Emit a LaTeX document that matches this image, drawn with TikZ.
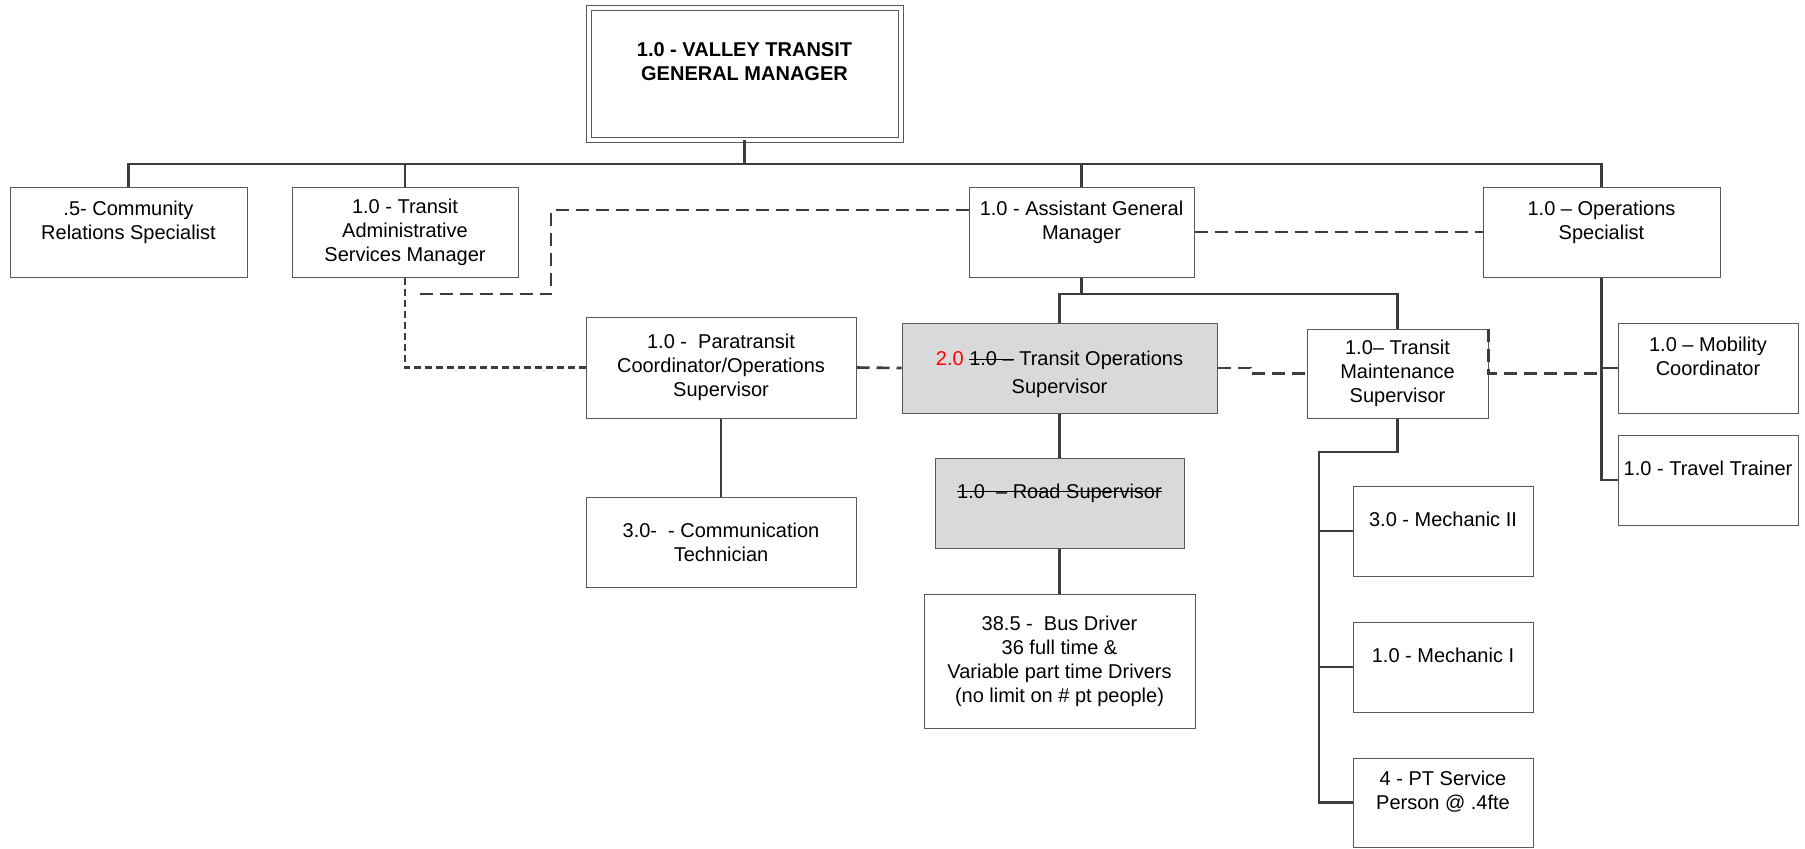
\documentclass[tikz,border=0pt]{standalone}
\usepackage{fontspec}
\setmainfont{Liberation Sans}
\usepackage{xcolor}
\usepackage{tikz}
\usetikzlibrary{calc}
\definecolor{edge}{HTML}{595959}
\definecolor{wire}{HTML}{3C3C3C}
\definecolor{shade}{HTML}{D9D9D9}
\definecolor{num}{HTML}{FF0000}
\newcommand\strk[1]{\setbox0\hbox{#1}\rlap{\rule[0.3em]{\wd0}{0.5pt}}\box0\relax}
\tikzset{
  box/.style={draw=edge, line width=0.5pt, fill=white, align=center, inner xsep=1pt, inner ysep=0pt, font=\fontsize{10}{12}\selectfont},
  sz/.style 2 args={minimum width=#1*0.5pt, minimum height=#2*0.5pt},
  grey/.style={box, fill=shade},
  link/.style={draw=wire, line width=1.1pt},
  dlink/.style={draw=wire, line width=1.3pt, dash pattern=on 6.5pt off 3.5pt},
  slink/.style={draw=wire, line width=1.2pt, dash pattern=on 3.5pt off 2pt},
}

\begin{document}
\begin{tikzpicture}[x=0.5pt,y=-0.5pt]
  \useasboundingbox (0,0) rectangle (1805,848);
  \node[box, sz={312}{132}, double, double distance=2pt, font=\fontsize{10}{12}\selectfont\bfseries] (gm) at (744.5,73.5) {1.0 - VALLEY TRANSIT\\GENERAL MANAGER\\\mbox{}};
  \node[box, sz={237}{90}] (crs) at (128.5,232) {.5- Community\\Relations Specialist\\\mbox{}};
  \node[box, sz={226}{90}] (adm) at (405,232) {1.0 - Transit\\Administrative\\Services Manager};
  \node[box, sz={225}{90}] (agm) at (1081.5,232) {1.0 - Assistant General\\Manager\\\mbox{}};
  \node[box, sz={237}{90}] (ops) at (1601.5,232) {1.0 -- Operations\\Specialist\\\mbox{}};
  \node[box, sz={270}{101}] (para) at (721,367.5) {1.0 -\ \ Paratransit\\Coordinator/Operations\\Supervisor};
  \node[grey, sz={315}{90}] (tos) at (1059.5,368) {\rule{0pt}{14pt}\textcolor{num}{2.0} \strk{1.0 --} Transit Operations\\[2pt]Supervisor};
  \node[box, sz={181}{89}] (tms) at (1397.5,373.5) {1.0-- Transit\\Maintenance\\Supervisor};
  \node[box, sz={180}{90}] (mob) at (1708,368) {1.0 -- Mobility\\Coordinator\\\mbox{}};
  \node[box, sz={180}{90}] (trn) at (1708,480) {1.0 - Travel Trainer\\\mbox{}};
  \node[box, sz={270}{90}] (com) at (721,542) {3.0-\ \ - Communication\\Technician};
  \node[grey, sz={249}{90}] (rds) at (1059.5,503) {\strk{1.0\ \ -- Road Supervisor}\\\mbox{}};
  \node[box, sz={271}{134}] (drv) at (1059.5,661) {38.5 -\ \ Bus Driver\\36 full time \&\\Variable part time Drivers\\(no limit on \# pt people)};
  \node[box, sz={180}{90}] (mc2) at (1443,531) {3.0 - Mechanic II\\\mbox{}};
  \node[box, sz={180}{90}] (mc1) at (1443,667) {1.0 - Mechanic I\\\mbox{}};
  \node[box, sz={180}{89}] (pts) at (1443,802.5) {4 - PT Service\\Person @ .4fte\\\mbox{}};

  \coordinate (hub) at (744.5,164);
  \draw[link] (gm.south) -- (hub);
  \draw[link] (crs.north) |- (hub) -| (ops.north);
  \draw[link] (adm.north) -- (adm.north |- hub);
  \draw[link] (agm.north) -- (agm.north |- hub);

  \coordinate (agmhub) at (1081.5,294);
  \draw[link] (agm.south) -- (agmhub);
  \draw[link] (tos.north) |- (agmhub) -| (tms.north);
  \draw[link] (tos.south) -- (rds.north);
  \draw[link] (rds.south) -- (drv.north);
  \draw[link] (para.south) -- (com.north);

  \coordinate (mhub) at (1319,452);
  \draw[link] (tms.south) |- (mhub) |- (pts.west);
  \draw[link] (mhub |- mc2.west) -- (mc2.west);
  \draw[link] (mhub |- mc1.west) -- (mc1.west);
  \draw[link] (ops.south) |- (trn.west);
  \draw[link] (ops.south |- mob.west) -- (mob.west);

  \coordinate (kink) at (551,294);
  \coordinate (admtail) at (417,294);
  \draw[dlink] ([yshift=11pt]agm.west) -| (kink) -- (admtail);
  \draw[slink] (adm.south) |- (para.west);
  \draw[dlink] (para.east) -- (tos.west);
  \draw[dlink] (tos.east) -- ++(33,0) |- (tms.west);
  \draw[dlink] (tms.north east) -- (tms.east) -- (ops.south |- tms.east);
  \draw[dlink] (agm.east) -- (ops.west);
\end{tikzpicture}
\end{document}
